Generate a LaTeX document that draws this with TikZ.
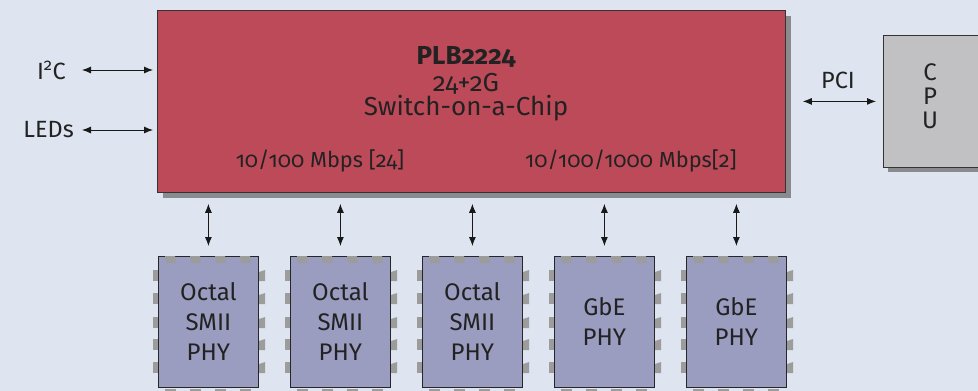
\documentclass[tikz,border=0pt]{standalone}
\usepackage{fontspec}
\setmainfont{Fira Sans}[Numbers=OldStyle]
\usetikzlibrary{arrows.meta,calc}
\definecolor{bg}{HTML}{DEE5F0}
\definecolor{chipred}{HTML}{BD4A59}
\definecolor{phyfill}{HTML}{9A9CC0}
\definecolor{cpufill}{HTML}{C1C1C3}
\definecolor{shadowgray}{HTML}{8A8B8E}
\definecolor{pingray}{HTML}{9C9C9C}
\definecolor{txt}{HTML}{222222}
\tikzset{
  chipbox/.style={draw=black!80, line width=0.8pt, fill=chipred, minimum width=628pt, minimum height=182pt, inner sep=0pt, anchor=north west},
  cpubox/.style={draw=black!80, line width=0.8pt, fill=cpufill, minimum width=100pt, minimum height=132pt, inner sep=0pt, anchor=north west},
  phybox/.style={draw=black!85, line width=0.8pt, fill=phyfill, minimum width=100pt, minimum height=131pt, inner sep=0pt, anchor=north west,
     text=txt, font=\fontsize{24}{30}\selectfont, align=center},
  lbl/.style={text=txt, font=\fontsize{23.5}{26}\selectfont, inner sep=0pt},
  chiptxt/.style={text=txt, font=\fontsize{26}{25}\selectfont, inner sep=0pt, align=center},
  biarrow/.style={{Latex[length=9pt,width=7pt]}-{Latex[length=9pt,width=7pt]}, line width=0.9pt, black!90},
}
\newcommand{\phypins}[1]{%
  \foreach \dx in {7,32,57,82}{
    \fill[pingray] ($(#1.north west)+(\dx pt,0)$) -- ++(1pt,-7pt) -- ++(10pt,0) -- ++(-1pt,7pt) -- cycle;
    \fill[pingray] ($(#1.south west)+(\dx pt,-1pt)$) rectangle ++(11pt,-4pt);
  }
  \foreach \dy in {14,37,61,83,106}{
    \fill[pingray] ($(#1.north west)+(-5.5pt,-\dy pt)$) rectangle ++(5.1pt,-11pt);
    \fill[pingray] ($(#1.north east)+(0.4pt,-\dy pt-2pt)$) -- ++(6pt,2pt) -- ++(0,-11pt) -- ++(-6pt,0) -- cycle;
  }
}
\begin{document}
\begin{tikzpicture}[x=1pt,y=-1pt]
\useasboundingbox (0,0) rectangle (978,391);
\fill[bg] (0,0) rectangle (978,391);
% chip with shadow
\fill[shadowgray] (163,16) rectangle (791,198);
\node[chipbox] (chip) at (157,10) {};
\node[chiptxt, font=\fontsize{26}{25}\selectfont\bfseries] (name) at (466,57) {PLB2224};
\node[chiptxt] (sub) at (466,84) {24+2G};
\node[chiptxt] (soc) at (466,108) {Switch-on-a-Chip};
\node[chiptxt, font=\fontsize{21.8}{24}\selectfont] (r1) at (320,161) {10/100 Mbps [24]};
\node[chiptxt, font=\fontsize{21.8}{24}\selectfont] (r2) at (631,161) {10/100/1000 Mbps[2]};
% cpu with shadow
\fill[shadowgray] (888,40) rectangle (990,172);
\node[cpubox] (cpu) at (883,35) {};
\node[chiptxt, font=\fontsize{24}{24}\selectfont] (cput) at (930,96) {C\\P\\U};
% left labels
\node[lbl, anchor=east] (i2c) at (66,70) {I\textsuperscript{2}C};
\node[lbl, anchor=east] (leds) at (74,130) {LEDs};
\coordinate (i2cend) at (82,70);
\coordinate (ledsend) at (82,130);
\draw[biarrow, shorten >=4pt] (i2cend) -- (i2cend -| chip.west);
\draw[biarrow, shorten >=4pt] (ledsend) -- (ledsend -| chip.west);
% PCI
\node[lbl] (pci) at (838,80) {PCI};
\draw[biarrow, shorten <=17pt, shorten >=7pt] (cpu.west -| chip.east) -- (cpu.west);
% PHYs
\node[phybox] (p1) at (158,256) {Octal\\SMII\\PHY};
\node[phybox] (p2) at (290,256) {Octal\\SMII\\PHY};
\node[phybox] (p3) at (422,256) {Octal\\SMII\\PHY};
\node[phybox] (p4) at (554,256) {GbE\\PHY};
\node[phybox] (p5) at (686,256) {GbE\\PHY};
\foreach \p in {p1,p2,p3,p4,p5}{
  \phypins{\p}
  \draw[biarrow, shorten <=11pt, shorten >=10pt] (\p.north |- chip.south) -- (\p.north);
}
\end{tikzpicture}
\end{document}
